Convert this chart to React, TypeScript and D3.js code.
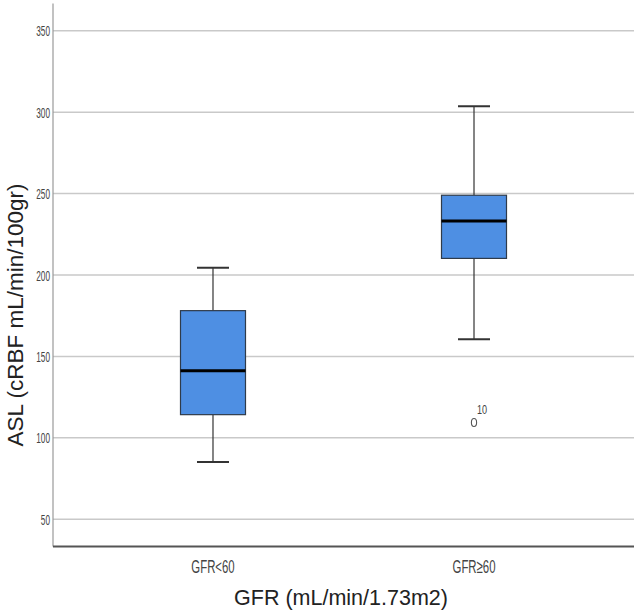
import React, { useEffect, useRef } from "react";
import * as d3 from "d3";

// box plot summary
const groups = ["GFR<60", "GFR≥60"];
const whiskerLow = [85.1, 160.5];
const q1 = [114.2, 210.2];
const median = [141.2, 233.2];
const q3 = [178.1, 249];
const whiskerHigh = [204.5, 303.6];
const outlierGroups = ["GFR≥60"];
const outlierValues = [109.4];
const outlierLabels = ["10"];
const yTicks = [50, 100, 150, 200, 250, 300, 350];

const App = () => {
  const svgRef = useRef<SVGSVGElement | null>(null);

  useEffect(() => {
    const width = 638, height = 615;
    const left = 53, right = 634, top = 3.5, bottom = 546.5;

    const svg = d3.select(svgRef.current)
      .attr("width", width)
      .attr("height", height)
      .style("position", "absolute")
      .style("left", "0px")
      .style("top", "0px")
      .style("background", "#fff");
    svg.selectAll("*").remove();

    const xScale = d3.scalePoint<string>()
      .domain(groups)
      .range([left, right])
      .padding(0.613);

    const yScale = d3.scaleLinear()
      .domain([33.2, 366.8])
      .range([bottom, top]);

    // gridlines
    svg.append("g")
      .selectAll("line")
      .data(yTicks)
      .enter().append("line")
      .attr("x1", left)
      .attr("x2", right)
      .attr("y1", d => yScale(d))
      .attr("y2", d => yScale(d))
      .attr("stroke", "#c9c9c9")
      .attr("stroke-width", 1.5);

    // y tick labels (condensed)
    svg.append("g")
      .selectAll("text")
      .data(yTicks)
      .enter().append("text")
      .attr("transform", d => `translate(50, ${yScale(d) + 5.5}) scale(0.55, 1)`)
      .attr("text-anchor", "end")
      .attr("font-family", "Liberation Sans, Arial, sans-serif")
      .attr("font-size", 15)
      .attr("fill", "#444")
      .text(d => d);

    // axis lines
    svg.append("line")
      .attr("x1", left).attr("x2", left)
      .attr("y1", top).attr("y2", bottom)
      .attr("stroke", "#999")
      .attr("stroke-width", 1.2);
    svg.append("line")
      .attr("x1", left).attr("x2", right)
      .attr("y1", bottom).attr("y2", bottom)
      .attr("stroke", "#555")
      .attr("stroke-width", 2);

    const boxW = 65, capW = 32;
    const rows = groups.map((g, i) => ({
      g, lo: whiskerLow[i], q1: q1[i], med: median[i], q3: q3[i], hi: whiskerHigh[i]
    }));

    const box = svg.append("g")
      .selectAll("g")
      .data(rows)
      .enter().append("g");

    // whisker stems
    box.append("line")
      .attr("x1", d => xScale(d.g)!)
      .attr("x2", d => xScale(d.g)!)
      .attr("y1", d => yScale(d.hi))
      .attr("y2", d => yScale(d.q3))
      .attr("stroke", "#333")
      .attr("stroke-width", 1.2);
    box.append("line")
      .attr("x1", d => xScale(d.g)!)
      .attr("x2", d => xScale(d.g)!)
      .attr("y1", d => yScale(d.q1))
      .attr("y2", d => yScale(d.lo))
      .attr("stroke", "#333")
      .attr("stroke-width", 1.2);

    // caps
    box.append("line")
      .attr("x1", d => xScale(d.g)! - capW / 2)
      .attr("x2", d => xScale(d.g)! + capW / 2)
      .attr("y1", d => yScale(d.hi))
      .attr("y2", d => yScale(d.hi))
      .attr("stroke", "#333")
      .attr("stroke-width", 2);
    box.append("line")
      .attr("x1", d => xScale(d.g)! - capW / 2)
      .attr("x2", d => xScale(d.g)! + capW / 2)
      .attr("y1", d => yScale(d.lo))
      .attr("y2", d => yScale(d.lo))
      .attr("stroke", "#333")
      .attr("stroke-width", 2);

    // boxes
    box.append("rect")
      .attr("x", d => xScale(d.g)! - boxW / 2)
      .attr("y", d => yScale(d.q3))
      .attr("width", boxW)
      .attr("height", d => yScale(d.q1) - yScale(d.q3))
      .attr("fill", "#4e8fe3")
      .attr("stroke", "#2f3b4a")
      .attr("stroke-width", 1.2);

    // medians
    box.append("line")
      .attr("x1", d => xScale(d.g)! - boxW / 2)
      .attr("x2", d => xScale(d.g)! + boxW / 2)
      .attr("y1", d => yScale(d.med))
      .attr("y2", d => yScale(d.med))
      .attr("stroke", "#000")
      .attr("stroke-width", 3);

    // outliers
    const outs = outlierGroups.map((g, i) => ({ g, v: outlierValues[i], label: outlierLabels[i] }));
    svg.append("g")
      .selectAll("ellipse")
      .data(outs)
      .enter().append("ellipse")
      .attr("cx", d => xScale(d.g)!)
      .attr("cy", d => yScale(d.v))
      .attr("rx", 2.6)
      .attr("ry", 4)
      .attr("fill", "none")
      .attr("stroke", "#555")
      .attr("stroke-width", 1.1);
    svg.append("g")
      .selectAll("text")
      .data(outs)
      .enter().append("text")
      .attr("transform", d => `translate(${xScale(d.g)! + 3}, ${yScale(d.v) - 8}) scale(0.7, 1)`)
      .attr("font-family", "Liberation Sans, Arial, sans-serif")
      .attr("font-size", 13)
      .attr("fill", "#444")
      .text(d => d.label);

    // x tick labels (condensed)
    svg.append("g")
      .selectAll("text")
      .data(groups)
      .enter().append("text")
      .attr("transform", d => `translate(${xScale(d)}, 573) scale(0.6, 1)`)
      .attr("text-anchor", "middle")
      .attr("font-family", "Liberation Sans, Arial, sans-serif")
      .attr("font-size", 19)
      .attr("fill", "#444")
      .text(d => d);

    // axis titles
    svg.append("text")
      .attr("x", 341)
      .attr("y", 605)
      .attr("text-anchor", "middle")
      .attr("font-family", "Liberation Sans, Arial, sans-serif")
      .attr("font-size", 21.5)
      .attr("fill", "#222")
      .text("GFR (mL/min/1.73m2)");

    svg.append("text")
      .attr("transform", "rotate(-90)")
      .attr("x", -315)
      .attr("y", 23)
      .attr("text-anchor", "middle")
      .attr("font-family", "Liberation Sans, Arial, sans-serif")
      .attr("font-size", 22.5)
      .attr("fill", "#222")
      .text("ASL (cRBF mL/min/100gr)");
  }, []);

  return <svg ref={svgRef}></svg>;
};

export default App;
